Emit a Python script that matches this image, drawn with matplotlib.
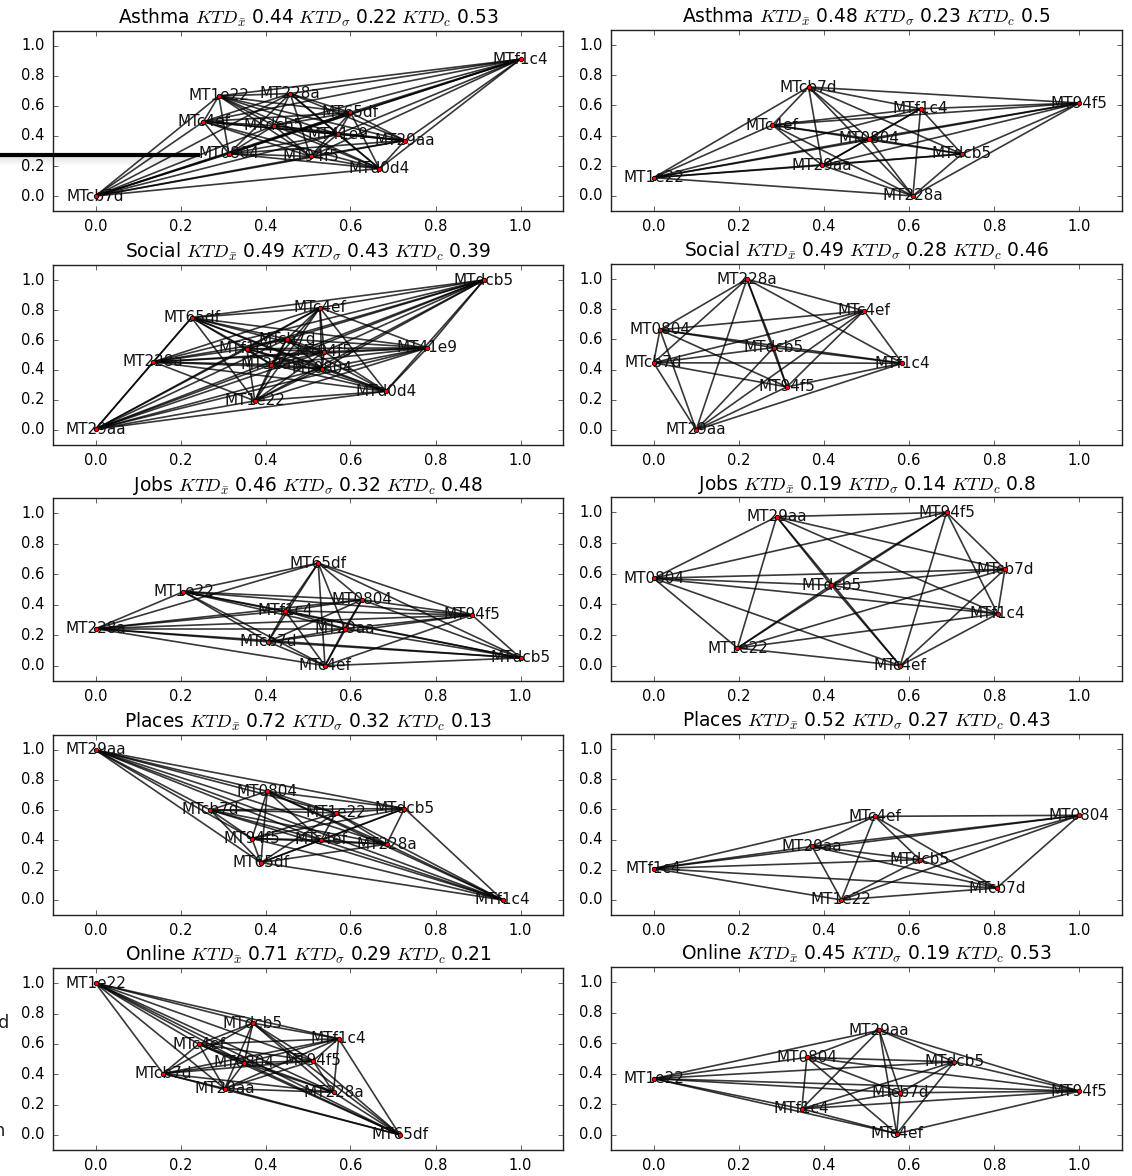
import itertools
import matplotlib
matplotlib.use('Agg')
import matplotlib.pyplot as plt
from matplotlib.lines import Line2D

plt.style.use('classic')

W, H = 1132, 1176

# left column
asthma_l_names = ['MTf1c4', 'MT1e22', 'MT228a', 'MT65df', 'MTc4ef', 'MTdcb5', 'MT41e9', 'MT29aa', 'MT0804', 'MT94f5', 'MTd0d4', 'MTcb7d']
asthma_l_x = [1.0, 0.29, 0.458, 0.60, 0.254, 0.42, 0.57, 0.728, 0.314, 0.506, 0.668, 0.0]
asthma_l_y = [0.912, 0.667, 0.683, 0.557, 0.496, 0.469, 0.412, 0.37, 0.282, 0.264, 0.183, 0.0]

social_l_names = ['MTdcb5', 'MTc4ef', 'MT65df', 'MTcb7d', 'MTf1c4', 'MT94f5', 'MT41e9', 'MT228a', 'MT32a9', 'MT0804', 'MTd0d4', 'MT1e22', 'MT29aa']
social_l_x = [0.914, 0.528, 0.226, 0.45, 0.356, 0.538, 0.781, 0.136, 0.414, 0.533, 0.683, 0.375, 0.0]
social_l_y = [1.0, 0.815, 0.749, 0.606, 0.542, 0.522, 0.548, 0.454, 0.436, 0.41, 0.258, 0.194, 0.005]

jobs_l_names = ['MT65df', 'MT1e22', 'MT0804', 'MTf1c4', 'MT94f5', 'MT228a', 'MT29aa', 'MTcb7d', 'MTc4ef', 'MTdcb5']
jobs_l_x = [0.524, 0.207, 0.627, 0.446, 0.886, 0.0, 0.586, 0.406, 0.54, 1.0]
jobs_l_y = [0.673, 0.486, 0.433, 0.36, 0.333, 0.243, 0.243, 0.157, 0.0, 0.051]

places_l_names = ['MT29aa', 'MT0804', 'MTcb7d', 'MT1e22', 'MTdcb5', 'MT94f5', 'MTc4ef', 'MT228a', 'MT65df', 'MTf1c4']
places_l_x = [0.0, 0.404, 0.27, 0.565, 0.727, 0.368, 0.531, 0.685, 0.389, 0.958]
places_l_y = [1.0, 0.725, 0.6, 0.581, 0.61, 0.41, 0.40, 0.372, 0.249, 0.0]

online_l_names = ['MT1e22', 'MTdcb5', 'MTf1c4', 'MTc4ef', 'MT0804', 'MT94f5', 'MTcb7d', 'MT29aa', 'MT228a', 'MT65df']
online_l_x = [0.0, 0.37, 0.572, 0.243, 0.35, 0.512, 0.159, 0.304, 0.56, 0.716]
online_l_y = [1.0, 0.737, 0.634, 0.598, 0.475, 0.488, 0.404, 0.305, 0.28, 0.0]

# right column
asthma_r_names = ['MTcb7d', 'MT94f5', 'MTf1c4', 'MTc4ef', 'MT0804', 'MTdcb5', 'MT29aa', 'MT1e22', 'MT228a']
asthma_r_x = [0.364, 1.0, 0.627, 0.279, 0.506, 0.724, 0.396, 0.0, 0.609]
asthma_r_y = [0.722, 0.616, 0.578, 0.47, 0.38, 0.278, 0.203, 0.121, 0.0]

social_r_names = ['MT228a', 'MTc4ef', 'MT0804', 'MTdcb5', 'MTcb7d', 'MTf1c4', 'MT94f5', 'MT29aa']
social_r_x = [0.219, 0.494, 0.015, 0.282, 0.0, 0.584, 0.313, 0.1]
social_r_y = [1.0, 0.79, 0.664, 0.546, 0.445, 0.442, 0.285, 0.0]

jobs_r_names = ['MT94f5', 'MT29aa', 'MTcb7d', 'MT0804', 'MTdcb5', 'MTf1c4', 'MT1e22', 'MTc4ef']
jobs_r_x = [0.688, 0.289, 0.825, 0.0, 0.417, 0.808, 0.197, 0.579]
jobs_r_y = [1.0, 0.971, 0.629, 0.57, 0.525, 0.338, 0.115, 0.0]

places_r_names = ['MT0804', 'MTc4ef', 'MT29aa', 'MTdcb5', 'MTf1c4', 'MTcb7d', 'MT1e22']
places_r_x = [1.0, 0.519, 0.372, 0.625, 0.0, 0.806, 0.441]
places_r_y = [0.561, 0.554, 0.355, 0.267, 0.208, 0.079, 0.0]

online_r_names = ['MT29aa', 'MT0804', 'MTdcb5', 'MT1e22', 'MTcb7d', 'MT94f5', 'MTf1c4', 'MTc4ef']
online_r_x = [0.53, 0.36, 0.706, 0.0, 0.579, 1.0, 0.348, 0.571]
online_r_y = [0.685, 0.507, 0.478, 0.368, 0.275, 0.286, 0.17, 0.007]

topics = ['Asthma', 'Social', 'Jobs', 'Places', 'Online']
ktd_l = [('0.44', '0.22', '0.53'), ('0.49', '0.43', '0.39'), ('0.46', '0.32', '0.48'), ('0.72', '0.32', '0.13'), ('0.71', '0.29', '0.21')]
ktd_r = [('0.48', '0.23', '0.5'), ('0.49', '0.28', '0.46'), ('0.19', '0.14', '0.8'), ('0.52', '0.27', '0.43'), ('0.45', '0.19', '0.53')]

panels_l = [(asthma_l_names, asthma_l_x, asthma_l_y),
            (social_l_names, social_l_x, social_l_y),
            (jobs_l_names, jobs_l_x, jobs_l_y),
            (places_l_names, places_l_x, places_l_y),
            (online_l_names, online_l_x, online_l_y)]
panels_r = [(asthma_r_names, asthma_r_x, asthma_r_y),
            (social_r_names, social_r_x, social_r_y),
            (jobs_r_names, jobs_r_x, jobs_r_y),
            (places_r_names, places_r_x, places_r_y),
            (online_r_names, online_r_x, online_r_y)]

tops = [31, 265, 498, 735, 968]
bottoms = [211, 445, 681, 915, 1150]
ticks = [0.0, 0.2, 0.4, 0.6, 0.8, 1.0]
fs = 10.5


def draw_panel(left, right, top, bottom, topic, ktd, names, xs, ys):
    ax = fig.add_axes([left / W, 1 - bottom / H, (right - left) / W, (bottom - top) / H])
    for i, j in itertools.combinations(range(len(names)), 2):
        ax.plot([xs[i], xs[j]], [ys[i], ys[j]], '-', color='k', lw=1.2, alpha=0.78, zorder=1)
    ax.plot(xs, ys, 'o', color='r', mec='k', mew=0.6, ms=3.2, zorder=3)
    for name, x, y in zip(names, xs, ys):
        ax.text(x, y, name, ha='center', va='center', fontsize=fs + 0.5, color='#111111', zorder=2)
    ax.set_xlim(-0.1, 1.1)
    ax.set_ylim(-0.1, 1.1)
    ax.set_xticks(ticks)
    ax.set_yticks(ticks)
    ax.tick_params(labelsize=fs, length=3.5, pad=6, color='#222222')
    for s in ax.spines.values():
        s.set_linewidth(1.0)
        s.set_color('#222222')
    ax.set_title(r'%s $KTD_{\bar{x}}$ %s $KTD_{\sigma}$ %s $KTD_{c}$ %s' % (topic, ktd[0], ktd[1], ktd[2]),
                 fontsize=13.4, y=1.0, pad=5)
    return ax


fig = plt.figure(figsize=(W / 100, H / 100), dpi=100, facecolor='white')

for row in range(5):
    names, xs, ys = panels_l[row]
    draw_panel(53, 563, tops[row], bottoms[row], topics[row], ktd_l[row], names, xs, ys)
    names, xs, ys = panels_r[row]
    draw_panel(611, 1122, tops[row] - 1, bottoms[row], topics[row], ktd_r[row], names, xs, ys)

# stray stuff from the page the screenshot was cut out of
for k in range(1, 10):
    fig.add_artist(Line2D([0, 200 / W], [1 - (156 + k) / H] * 2, color='k', lw=0.8, alpha=0.09 * (10 - k) / 9, zorder=5))
fig.add_artist(Line2D([0, 200 / W], [1 - 155 / H] * 2, color='k', lw=3, solid_capstyle='butt', zorder=6))
fig.text(9 / W, 1 - 1023 / H, 'd', ha='right', va='center', fontsize=13, color='#222222')
fig.text(5 / W, 1 - 1131 / H, 'n', ha='right', va='center', fontsize=13, color='#222222')

fig.savefig('out.png', dpi=100, facecolor='white')
